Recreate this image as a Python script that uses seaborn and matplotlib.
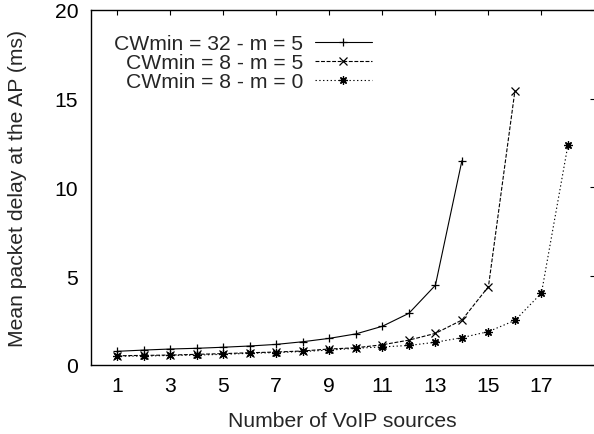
import matplotlib
matplotlib.use("Agg")
import matplotlib.pyplot as plt
import seaborn as sns
import pandas as pd

x_cw32_m5 = list(range(1, 15))
y_cw32_m5 = [0.77, 0.84, 0.90, 0.94, 1.00, 1.07, 1.16, 1.31, 1.50, 1.75, 2.18, 2.91, 4.49, 11.5]
x_cw8_m5 = list(range(1, 17))
y_cw8_m5 = [0.52, 0.54, 0.56, 0.60, 0.64, 0.69, 0.73, 0.79, 0.90, 0.97, 1.14, 1.40, 1.78, 2.53, 4.41, 15.45]
x_cw8_m0 = list(range(1, 19))
y_cw8_m0 = [0.50, 0.50, 0.54, 0.56, 0.60, 0.66, 0.70, 0.76, 0.84, 0.94, 1.02, 1.10, 1.28, 1.54, 1.88, 2.51, 4.05, 12.4]
labels = ["CWmin = 32 - m = 5", "CWmin = 8 - m = 5", "CWmin = 8 - m = 0"]
xticks = [1, 3, 5, 7, 9, 11, 13, 15, 17]
yticks = [0, 5, 10, 15, 20]

sns.set_style("white")
plt.rcParams['font.family'] = ['Liberation Sans', 'DejaVu Sans']
FS = 15.2

fig = plt.figure(figsize=(5.94, 4.35), dpi=100)
ax = fig.add_axes([90.7 / 594, 69 / 435, (594.5 - 90.7) / 594, (366 - 10.7) / 435])

series = [
    (x_cw32_m5, y_cw32_m5, labels[0], '-', '+'),
    (x_cw8_m5, y_cw8_m5, labels[1], (0, (3.5, 1.5)), 'x'),
    (x_cw8_m0, y_cw8_m0, labels[2], (0, (1.2, 2.2)), (8, 2, 0)),
]
for xs, ys, lab, ls, mk in series:
    df = pd.DataFrame({"x": xs, "y": ys})
    sns.lineplot(data=df, x="x", y="y", ax=ax, color="black", linewidth=0.8,
                 linestyle=ls, marker=mk, markersize=6, markeredgewidth=0.9,
                 markeredgecolor="black", label=lab)

ax.set_xlim(0, 19)
ax.set_ylim(0, 20)
ax.set_xticks(xticks)
ax.set_yticks(yticks)
ax.tick_params(direction='in', length=3.3, width=0.8, top=True, right=True,
               labelsize=FS, colors='black')
ax.tick_params(axis='y', pad=9)
ax.tick_params(axis='x', pad=8)
for s in ax.spines.values():
    s.set_color('black')
    s.set_linewidth(1.0)
ax.set_xlabel("Number of VoIP sources", fontsize=FS, labelpad=11.5)
ax.set_ylabel("Mean packet delay at the AP (ms)", fontsize=FS, labelpad=20)

leg = ax.legend(loc='upper left', bbox_to_anchor=((114 - 90.7) / 503.8, (366 - 35) / 355.3),
                frameon=False, markerfirst=False, fontsize=FS, handlelength=2.7,
                handletextpad=0.55, labelspacing=0.0, borderaxespad=0,
                borderpad=0)

fig.savefig("out.png", dpi=100)
